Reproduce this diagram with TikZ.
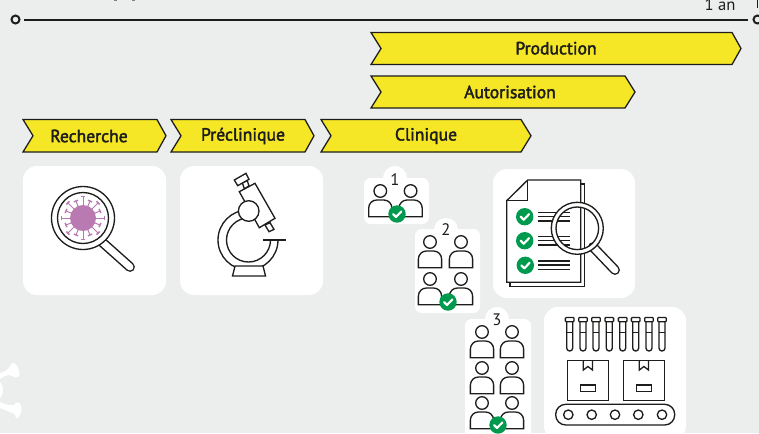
\documentclass[tikz,border=0pt]{standalone}
\usepackage{fontspec}
\setmainfont{PT Sans}
\newfontfamily\dinfont{PT Sans}[FakeBold=2.2]
\definecolor{bg}{HTML}{ECEEED}
\definecolor{ylw}{HTML}{F5E626}
\definecolor{inkc}{HTML}{1D1D1B}
\definecolor{grn}{HTML}{009A4E}
\definecolor{vir}{HTML}{B87AB0}
\tikzset{
  ink/.style={draw=inkc,line width=1pt,line join=miter},
  thinink/.style={draw=inkc,line width=.8pt},
  card/.style={fill=white,rounded corners=10.5pt},
  minicard/.style={fill=white,rounded corners=5pt},
  chevron/.style={fill=ylw,draw=inkc,line width=.95pt,line join=miter},
  chevtext/.style={font=\dinfont\fontsize{13.2pt}{15pt}\selectfont,text=inkc,inner sep=0pt},
  numtext/.style={font=\fontsize{12.5pt}{14pt}\selectfont,text=inkc,inner sep=0pt},
  tl/.style={draw=inkc,line width=1.5pt},
  tlend/.style={circle,draw=inkc,line width=1.5pt,fill=none,minimum size=6pt,inner sep=0pt},
}
\newcommand{\chev}[6]{% x0 x1 tip ytop ybot name
  \pgfmathsetmacro{\ymid}{(#4+#5)/2}
  \draw[chevron] (#1,#4) -- (#2,#4) -- (#3,\ymid) -- (#2,#5) -- (#1,#5) -- (#1+10,\ymid) -- cycle;
}
\newcommand{\persona}[2]{%
  \begin{scope}[shift={(#1,#2)}]
    \draw[ink] (0,0) circle (6.3);
    \draw[ink] (-11.6,25.7) -- (-11.6,18) [rounded corners=6pt] -- (-11.6,9) -- (11.6,9) [sharp corners] -- (11.6,25.7) -- cycle;
  \end{scope}}
\newcommand{\chk}[2]{%
  \fill[grn] (#1,#2) circle (8.7);
  \draw[white,line width=1.6pt,line cap=round,line join=round] (#1-4,#2) -- (#1-1,#2+3) -- (#1+4.4,#2-2.6);}
\newcommand{\handle}[4]{%
  \draw[inkc,line width=7.4pt,line cap=round] (#1,#2) -- (#3,#4);
  \draw[white,line width=5.2pt,line cap=round] (#1,#2) -- (#3,#4);}
\begin{document}
\begin{tikzpicture}[x=.75pt,y=-.75pt]
\useasboundingbox (0,0) rectangle (759,433);
\fill[bg] (0,0) rectangle (759,433);

% white bone shape, bottom left
\fill[white] (0,373) .. controls (5,372) and (9,369) .. (11,364) .. controls (14,360) and (20,368) .. (19.5,376) .. controls (16,379) and (13,376) .. (9,375) .. controls (6,375) and (3,377) .. (0,379) -- cycle;
\fill[white] (0,382) .. controls (4,385) and (4,394) .. (0,398) -- cycle;
\fill[white] (0,402) .. controls (5,404) and (9,406) .. (14,405) .. controls (18,399) and (23,404) .. (21,412) .. controls (19,420) and (15,420) .. (15,414) .. controls (10,412) and (5,410) .. (0,408) -- cycle;

% top fragments
\fill[gray] (114,0) rectangle (117,1);
\fill[gray] (132,0) rectangle (135,1);

% timeline
\node[tlend] (tstart) at (15.5,19.5) {};
\node[tlend] (tend) at (757.5,19.5) {};
\draw[tl] (24,19.5) -- (748,19.5);
\draw[inkc,line width=.9pt] (757.8,0) -- (757.8,8);
\node[numtext,anchor=base] (unan) at (720,10) {1 an};

% chevrons
\chev{371}{732}{741}{32.5}{64.5}{nprod}
\node[chevtext] (nprod) at (556,48.2) {Production};
\chev{371}{625}{635}{76}{108}{naut}
\node[chevtext] (naut) at (510,92) {Autorisation};
\chev{23}{157}{166}{119.5}{152}{nrech}
\node[chevtext] (nrech) at (89,136) {Recherche};
\chev{171}{305}{314}{119.5}{152}{npre}
\node[chevtext] (npre) at (243,136) {Préclinique};
\chev{321}{521}{531}{119.5}{152}{nclin}
\node[chevtext] (nclin) at (426,136) {Clinique};

% white cards
\fill[card] (23,166) rectangle (166,295);
\fill[card] (180,166) rectangle (323,295);
\fill[card] (493,169) rectangle (635,298);
\fill[card] (544,307) rectangle (686,440);

% magnifier + virus
\handle{102}{242}{130}{267}
\draw[ink,fill=white] (83,218) circle (31.5);
\draw[ink] (83,218) circle (25.5);
\fill[vir] (83,218) circle (13);
\begin{scope}[shift={(83,218)}]
\foreach \a [count=\i] in {0,22.5,...,337.5} {
  \pgfmathsetmacro{\rr}{isodd(\i)?21.5:18.5}
  \pgfmathsetmacro{\da}{isodd(\i)?6:7}
  \draw[vir,line width=.75pt] (\a:12) -- (\a:\rr);
  \draw[vir,line width=1.1pt] (\a-\da:\rr) -- (\a+\da:\rr);
}
\end{scope}

% microscope
\draw[ink] (278,240) arc[start angle=0,end angle=270,radius=30];
\draw[ink] (270.5,240) arc[start angle=0,end angle=270,radius=22];
\draw[ink] (263,240) -- (286,240);
\draw[ink,fill=white] (235,266) -- (263,266) -- (265.5,276) -- (232.5,276) -- cycle;
\draw[ink,fill=white] (265,225) -- (270,222.7) -- (274,229.3) -- (269,231.7) -- cycle;
\draw[ink,fill=white] (239.3,191.7) -- (255,183.3) -- (275,218.3) -- (259.3,227.7) -- cycle;
\draw[ink,fill=white] (242.3,182.7) -- (247.3,180.7) -- (249,186) -- (244.3,188.7) -- cycle;
\draw[ink,fill=white] (234.3,180) -- (246,173.3) -- (249,179.3) -- (237.7,185.7) -- cycle;
\draw[ink,fill=white] (248.7,211) circle (10.3);

% phase 1
\fill[minicard] (364,178) rectangle (429,224);
\fill[white] (395,178) circle (12);
\node[numtext] (n1) at (395,180) {1};
\persona{380.3}{191}
\persona{410.6}{191}
\chk{397}{214}

% phase 2
\fill[minicard] (415,229) rectangle (480,313);
\fill[white] (446,230) circle (12);
\node[numtext] (n2) at (446,230) {2};
\persona{430}{242}
\persona{461}{242}
\persona{430}{279}
\persona{461}{279}
\chk{448}{302}

% phase 3
\fill[minicard] (465,319) rectangle (531,440);
\fill[white] (497,319) circle (12);
\node[numtext] (n3) at (497,320) {3};
\persona{482}{332}
\persona{512}{332}
\persona{482}{368}
\persona{512}{368}
\persona{482}{403}
\persona{512}{403}
\chk{498}{425}

% document
\draw[ink] (581,184) -- (584.3,184) -- (584.3,286.7) -- (510,286.7) -- (510,282.3);
\draw[ink,fill=white] (527.7,180) -- (580.7,180) -- (580.7,282.3) -- (506.7,282.3) -- (506.7,200.7) -- cycle;
\draw[ink] (527.7,180) -- (527.7,200.7) -- (506.7,200.7);
\chk{524.7}{216.7}
\chk{524.7}{240.7}
\chk{525.3}{265.3}
\foreach \y in {212.3,216.7,221,236.7,240.7,245,261,265,269.3}
  \draw[thinink] (537.7,\y) -- (570,\y);
\handle{593}{247}{615}{270}
\draw[ink,even odd rule,fill=white] (577.3,228.3) circle (26) (577.3,228.3) circle (21.3);

% tubes
\foreach \x in {569.7,583,596,609.3,622.7,635.7,649,662} {
  \draw[ink,rounded corners=2.2pt] (\x-3,321.7) -- (\x-3,351) -- (\x+3,351) -- (\x+3,321.7);
  \draw[ink] (\x-3,332.3) -- (\x+3,332.3);
  \draw[ink,fill=white,rounded corners=.6pt] (\x-4.3,317.5) rectangle (\x+4.3,321.7);
}
% boxes
\foreach \x in {567.3,623.3} {
  \draw[ink] (\x,360.3) rectangle (\x+41.2,400.3);
  \draw[ink] (\x+16,360.3) -- (\x+16,370) -- (\x+20.6,366.5) -- (\x+25.2,370) -- (\x+25.2,360.3);
  \draw[ink] (\x+13.4,385) rectangle (\x+28,391.7);
}
% belt
\draw[ink,rounded corners=7.5pt] (555.7,404.3) rectangle (674.7,425);
\foreach \x in {568.3,591.7,615,638.3,662}
  \draw[ink] (\x,414.7) circle (4.7);
\end{tikzpicture}
\end{document}
